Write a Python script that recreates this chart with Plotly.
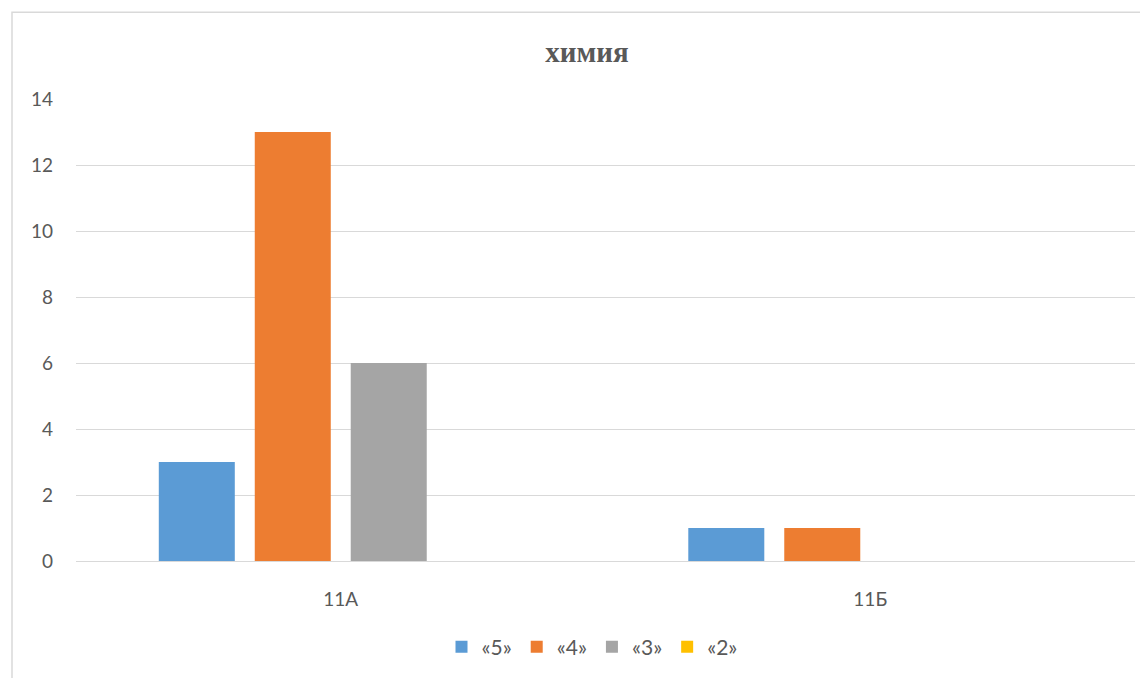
import plotly.graph_objects as go

categories = ["11А", "11Б"]
series_names = ["«5»", "«4»", "«3»", "«2»"]
values_5 = [3, 1]
values_4 = [13, 1]
values_3 = [6, 0]
values_2 = [0, 0]
colors = ["#5B9BD5", "#ED7D31", "#A5A5A5", "#FFC000"]
y_ticks = [0, 2, 4, 6, 8, 10, 12, 14]

fig = go.Figure()
for name, vals, col in zip(series_names, [values_5, values_4, values_3, values_2], colors):
    fig.add_trace(go.Bar(x=categories, y=vals, name=name, marker_color=col,
                         marker_line_width=0))

OFF = 8  # page body margin
W, H = 1148 - OFF, 678 - OFF
ml, mr, mt, mb = 76 - OFF, 13, 99 - OFF, 116
pw = W - ml - mr
ph = H - mt - mb

fig.update_layout(
    width=W, height=H,
    margin=dict(l=ml, r=mr, t=mt, b=mb),
    paper_bgcolor="white", plot_bgcolor="white",
    barmode="group", bargap=0.275, bargroupgap=0.208,
    font=dict(family="Lato, Open Sans, sans-serif", size=19, color="#595959"),
    title=dict(text="<b>химия</b>", x=(587 - OFF) / W, xanchor="center", y=1 - (52 - OFF) / H, yanchor="middle",
               font=dict(family="Liberation Serif, Times New Roman, serif", size=29, color="#595959")),
    legend=dict(orientation="h", x=(592 - OFF - ml) / pw, xanchor="center", y=-(647 - 562) / ph, yanchor="middle",
                font=dict(size=21, color="#595959"), itemwidth=30, traceorder="normal"),
    showlegend=True,
)
fig.update_yaxes(range=[0, 14], tickvals=y_ticks, showgrid=True, gridcolor="#D9D9D9", gridwidth=1.3,
                 zeroline=False, showline=False, ticks="", ticklabelstandoff=22)
fig.update_xaxes(showgrid=False, showline=True, linecolor="#D9D9D9", linewidth=1.3, ticks="",
                 ticklabelstandoff=21)

# chart border
fig.add_shape(type="rect", xref="paper", yref="paper",
              x0=(12 - 76) / pw, x1=(1148 + 20 - 76) / pw,
              y0=-(678 + 20 - 562) / ph, y1=(562 - 12) / ph,
              line=dict(color="#D9D9D9", width=1.5), fillcolor="rgba(0,0,0,0)", layer="below")

fig.write_html("out.html")
